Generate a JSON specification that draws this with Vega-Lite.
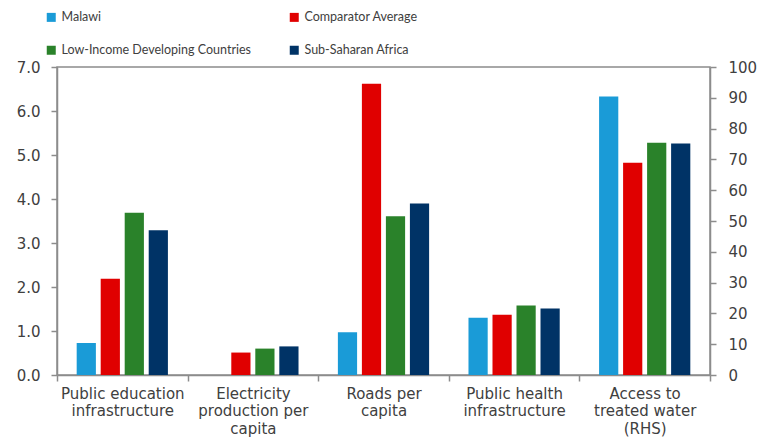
{
  "$schema": "https://vega.github.io/schema/vega-lite/v6.json",
  "width": 653,
  "height": 308,
  "autosize": {"type": "none"},
  "padding": {"left": 57, "top": 67, "right": 48, "bottom": 63},
  "background": "white",
  "config": {
    "view": {"stroke": "#8c8c8c", "strokeWidth": 1.5},
    "font": "DejaVu Sans",
    "axis": {
      "grid": false,
      "domainColor": "#8c8c8c",
      "domainWidth": 1.5,
      "tickColor": "#8c8c8c",
      "tickWidth": 1.5,
      "labelColor": "#404040",
      "labelFont": "DejaVu Sans",
      "labelFontSize": 15,
      "title": null
    }
  },
  "data": {
    "values": [
      {"indicator": "Public education infrastructure", "series": "Malawi", "value": 0.73},
      {"indicator": "Public education infrastructure", "series": "Comparator Average", "value": 2.19},
      {"indicator": "Public education infrastructure", "series": "Low-Income Developing Countries", "value": 3.69},
      {"indicator": "Public education infrastructure", "series": "Sub-Saharan Africa", "value": 3.29},
      {"indicator": "Electricity production per capita", "series": "Comparator Average", "value": 0.51},
      {"indicator": "Electricity production per capita", "series": "Low-Income Developing Countries", "value": 0.60},
      {"indicator": "Electricity production per capita", "series": "Sub-Saharan Africa", "value": 0.65},
      {"indicator": "Roads per capita", "series": "Malawi", "value": 0.97},
      {"indicator": "Roads per capita", "series": "Comparator Average", "value": 6.62},
      {"indicator": "Roads per capita", "series": "Low-Income Developing Countries", "value": 3.61},
      {"indicator": "Roads per capita", "series": "Sub-Saharan Africa", "value": 3.9},
      {"indicator": "Public health infrastructure", "series": "Malawi", "value": 1.3},
      {"indicator": "Public health infrastructure", "series": "Comparator Average", "value": 1.37},
      {"indicator": "Public health infrastructure", "series": "Low-Income Developing Countries", "value": 1.58},
      {"indicator": "Public health infrastructure", "series": "Sub-Saharan Africa", "value": 1.51},
      {"indicator": "Access to treated water (RHS)", "series": "Malawi", "value": 90.4},
      {"indicator": "Access to treated water (RHS)", "series": "Comparator Average", "value": 68.9},
      {"indicator": "Access to treated water (RHS)", "series": "Low-Income Developing Countries", "value": 75.4},
      {"indicator": "Access to treated water (RHS)", "series": "Sub-Saharan Africa", "value": 75.2}
    ]
  },
  "encoding": {
    "x": {
      "field": "indicator",
      "type": "nominal",
      "sort": ["Public education infrastructure", "Electricity production per capita", "Roads per capita", "Public health infrastructure", "Access to treated water (RHS)"],
      "scale": {
        "domain": ["Public education infrastructure", "Electricity production per capita", "Roads per capita", "Public health infrastructure", "Access to treated water (RHS)"],
        "paddingInner": 0,
        "paddingOuter": 0
      },
      "axis": {
        "labelAngle": 0,
        "tickBand": "extent",
        "tickSize": 6,
        "labelPadding": 5,
        "labelLineHeight": 17.5,
        "labelBaseline": "top",
        "labelExpr": "datum.value == 'Public education infrastructure' ? ['Public education', 'infrastructure'] : datum.value == 'Electricity production per capita' ? ['Electricity', 'production per', 'capita'] : datum.value == 'Roads per capita' ? ['Roads per', 'capita'] : datum.value == 'Public health infrastructure' ? ['Public health', 'infrastructure'] : datum.value == 'Access to treated water (RHS)' ? ['Access to', 'treated water', '(RHS)'] : ''"
      }
    },
    "xOffset": {
      "field": "series",
      "type": "nominal",
      "scale": {
        "domain": ["Malawi", "Comparator Average", "Low-Income Developing Countries", "Sub-Saharan Africa"],
        "paddingInner": 0.2,
        "paddingOuter": 0.82
      }
    },
    "color": {
      "field": "series",
      "type": "nominal",
      "scale": {
        "domain": ["Malawi", "Low-Income Developing Countries", "Comparator Average", "Sub-Saharan Africa"],
        "range": ["#1a9bd7", "#2a822a", "#e00000", "#003366"]
      },
      "legend": {
        "orient": "none",
        "legendX": -12,
        "legendY": -56,
        "columns": 2,
        "title": null,
        "symbolType": "square",
        "symbolSize": 81,
        "symbolStrokeWidth": 0,
        "labelFont": "Lato",
        "labelFontSize": 12.5,
        "labelColor": "#404040",
        "labelOffset": 4,
        "columnPadding": 36,
        "rowPadding": 20,
        "padding": 0,
        "labelLimit": 400
      }
    }
  },
  "layer": [
    {
      "transform": [{"filter": "datum.indicator != 'Access to treated water (RHS)'"}],
      "mark": {"type": "bar"},
      "encoding": {
        "y": {
          "field": "value",
          "type": "quantitative",
          "scale": {"domain": [0, 7], "nice": false},
          "axis": {"values": [0, 1, 2, 3, 4, 5, 6, 7], "format": ".1f", "tickSize": 6, "labelPadding": 11}
        }
      }
    },
    {
      "transform": [{"filter": "datum.indicator == 'Access to treated water (RHS)'"}],
      "mark": {"type": "bar"},
      "encoding": {
        "y": {
          "field": "value",
          "type": "quantitative",
          "scale": {"domain": [0, 100], "nice": false},
          "axis": {"orient": "right", "values": [0, 10, 20, 30, 40, 50, 60, 70, 80, 90, 100], "tickSize": 6, "labelPadding": 12}
        }
      }
    }
  ],
  "resolve": {"scale": {"y": "independent"}}
}
